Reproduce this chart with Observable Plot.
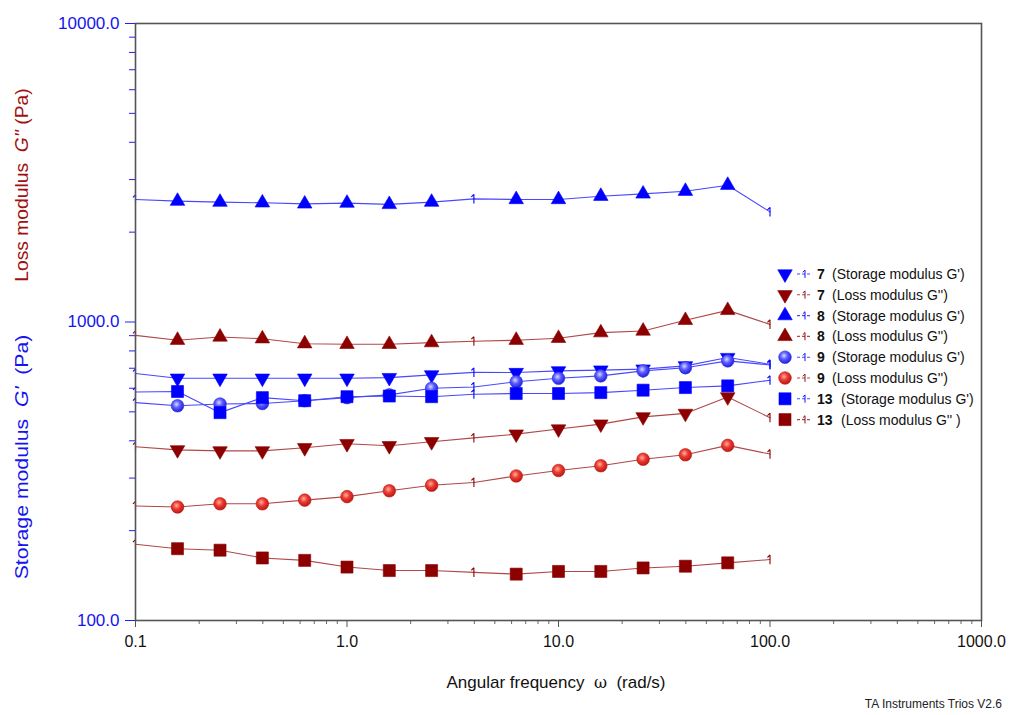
<!DOCTYPE html>
<html><head><meta charset="utf-8">
<script src="https://cdn.jsdelivr.net/npm/d3@7"></script>
<script src="https://cdn.jsdelivr.net/npm/@observablehq/plot@0.6"></script>
<style>body{margin:0;background:#fff;font-family:"Liberation Sans",Arial,sans-serif}</style>
</head><body>
<svg width="0" height="0" style="position:absolute">
<defs>
<radialGradient id="gBlue" cx="0.42" cy="0.38" r="0.65">
<stop offset="0" stop-color="#d8d8ff"/><stop offset="0.45" stop-color="#5a5aff"/><stop offset="1" stop-color="#1c1cd8"/>
</radialGradient>
<radialGradient id="gRed" cx="0.42" cy="0.38" r="0.65">
<stop offset="0" stop-color="#ffb0a0"/><stop offset="0.45" stop-color="#ec3a30"/><stop offset="1" stop-color="#b51612"/>
</radialGradient>
</defs></svg>
<div id="chart"></div>
<script>
// Angular frequency (rad/s)
const freq = [0.1, 0.158, 0.251, 0.398, 0.631, 1.0, 1.585, 2.512, 3.981, 6.31, 10.0, 15.85, 25.12, 39.81, 63.1, 100.0];
// Sample 7
const s7Storage = [672, 648, 648, 648, 648, 648, 651, 665, 678, 677, 686, 690, 695, 713, 760, 722];
const s7Loss    = [382, 373, 370, 370, 379, 391, 385, 397, 409, 421, 438, 455, 481, 494, 561, 478];
// Sample 8
const s8Storage = [2573, 2540, 2521, 2508, 2487, 2502, 2477, 2521, 2585, 2573, 2573, 2639, 2686, 2743, 2873, 2338];
const s8Loss    = [902, 869, 891, 879, 846, 842, 842, 853, 862, 869, 882, 921, 933, 1013, 1094, 982];
// Sample 9
const s9Storage = [537, 524, 531, 533, 545, 558, 570, 600, 606, 631, 648, 660, 686, 703, 741, 718];
const s9Loss    = [242, 240, 246, 246, 253, 260, 272, 284, 290, 305, 318, 330, 347, 359, 386, 361];
// Sample 13
const s13Storage = [583, 585, 497, 558, 545, 562, 565, 562, 573, 576, 576, 580, 591, 603, 611, 638];
const s13Loss    = [180, 174, 172, 162, 159, 151, 147, 147, 145, 143, 146, 146, 150, 152, 156, 160];
// Points drawn with the small line marker instead of the symbol
const lineMarkerIdx = [0, 8, 15];

const xTicks = [0.1, 1, 10, 100, 1000];
const xMinor = [0.2,0.3,0.4,0.5,0.6,0.7,0.8,0.9,2,3,4,5,6,7,8,9,20,30,40,50,60,70,80,90,200,300,400,500,600,700,800,900];
const yTicks = [100, 1000, 10000];
const yMinor = [200,300,400,500,600,700,800,900,2000,3000,4000,5000,6000,7000,8000,9000];

const BLUE = "#0000ff", DRED = "#8c0000";
const oneSymbol = {draw(ctx, size) {
  const r = Math.sqrt(size / Math.PI);
  ctx.moveTo(0, -r); ctx.lineTo(0, r);
  ctx.moveTo(-r * 0.55, -r * 0.45); ctx.lineTo(0, -r);
}};

const series = [
  {num: "7",  label: "(Storage modulus G')", vals: s7Storage,  kind: "tri",  rotate: 180, fill: BLUE,  stroke: BLUE, mark: BLUE, line: "#4848ff"},
  {num: "7",  label: "(Loss modulus G'')",   vals: s7Loss,     kind: "tri",  rotate: 180, fill: DRED,  stroke: DRED, mark: DRED, line: "#b04848"},
  {num: "8",  label: "(Storage modulus G')", vals: s8Storage,  kind: "tri",  rotate: 0,   fill: BLUE,  stroke: BLUE, mark: BLUE, line: "#4848ff"},
  {num: "8",  label: "(Loss modulus G'')",   vals: s8Loss,     kind: "tri",  rotate: 0,   fill: DRED,  stroke: DRED, mark: DRED, line: "#b04848"},
  {num: "9",  label: "(Storage modulus G')", vals: s9Storage,  kind: "circ", rotate: 0,   fill: "url(#gBlue)", stroke: "#2a2aee", mark: BLUE, line: "#4848ff"},
  {num: "9",  label: "(Loss modulus G'')",   vals: s9Loss,     kind: "circ", rotate: 0,   fill: "url(#gRed)",  stroke: "#c01a16", mark: DRED, line: "#b04848"},
  {num: "13", label: "(Storage modulus G')", vals: s13Storage, kind: "sq",   rotate: 0,   fill: BLUE,  stroke: BLUE, mark: BLUE, line: "#4848ff"},
  {num: "13", label: "(Loss modulus G'' )",  vals: s13Loss,    kind: "sq",   rotate: 0,   fill: DRED,  stroke: DRED, mark: DRED, line: "#b04848"}
];
const symName = {tri: "triangle", circ: "circle", sq: "square"};
const symR = {tri: 5.4, circ: 6.3, sq: 6.8};

const marks = [];
for (const s of series) {
  const rows = freq.map((f, i) => ({x: f, y: s.vals[i], i}));
  marks.push(Plot.line(rows, {x: "x", y: "y", stroke: s.line, strokeWidth: 1.1}));
}
for (const s of series) {
  const rows = freq.map((f, i) => ({x: f, y: s.vals[i], i}));
  marks.push(Plot.dot(rows.filter(d => !lineMarkerIdx.includes(d.i)), {
    x: "x", y: "y", symbol: symName[s.kind], r: symR[s.kind], rotate: s.rotate,
    fill: s.fill, stroke: s.stroke, strokeWidth: 0.6
  }));
  marks.push(Plot.dot(rows.filter(d => lineMarkerIdx.includes(d.i)), {
    x: "x", y: "y", symbol: oneSymbol, r: 4.6, fill: "none", stroke: s.mark, strokeWidth: 1.1
  }));
}

const chart = Plot.plot({
  width: 1012, height: 715,
  marginLeft: 135, marginRight: 31, marginTop: 23, marginBottom: 95,
  style: {fontFamily: '"Liberation Sans", Arial, sans-serif', fontSize: "16px", background: "#fff"},
  x: {type: "log", domain: [0.1, 1000]},
  y: {type: "log", domain: [100, 10000]},
  marks: [
    Plot.axisX(xMinor, {tickSize: 4, stroke: "#666", fill: "none", label: null}),
    Plot.axisX(xTicks, {tickSize: 7, tickPadding: 8, stroke: "#555", fill: "#111", tickFormat: d => d.toFixed(1), label: null}),
    Plot.axisY(yMinor, {tickSize: 6, stroke: "#2020ff", fill: "none", label: null}),
    Plot.axisY(yTicks, {tickSize: 10, tickPadding: 6, stroke: "#2020ff", fill: "#1414f0", fontSize: 17, tickFormat: d => d.toFixed(1), label: null}),
    ...marks,
    Plot.frame({stroke: "#555", strokeWidth: 1.6})
  ]
});
document.getElementById("chart").appendChild(chart);

const svg = d3.select(chart);
const font = '"Liberation Sans", Arial, sans-serif';
// X axis title
const xt = svg.append("text").attr("x", 556).attr("y", 682).attr("dy", "0.35em")
  .attr("text-anchor", "middle").attr("font-size", 17).attr("fill", "#111").attr("font-family", font)
  .attr("xml:space", "preserve");
xt.append("tspan").text("Angular frequency  ");
xt.append("tspan").attr("font-family", '"DejaVu Serif", serif').attr("font-size", 16).text("ω");
xt.append("tspan").text("  (rad/s)");
// Caption
svg.append("text").attr("x", 1002).attr("y", 704).attr("dy", "0.35em").attr("text-anchor", "end")
  .attr("font-size", 12).attr("fill", "#222").attr("font-family", font).text("TA Instruments Trios V2.6");
// Y axis titles
function yTitle(cy, color, a, g, b, stretch) {
  const t = svg.append("text").attr("transform", `translate(22,${cy}) rotate(-90) scale(${stretch},1)`).attr("dy", "0.35em")
    .attr("text-anchor", "middle").attr("font-size", 18).attr("fill", color).attr("font-family", font)
    .attr("xml:space", "preserve");
  t.append("tspan").text(a);
  t.append("tspan").attr("font-style", "italic").text(g);
  t.append("tspan").text(b);
}
yTitle(185, "#a01010", "Loss modulus  ", "G''", " (Pa)", 1.07);
yTitle(457, "#1414f0", "Storage modulus  ", "G'", "  (Pa)", 1.18);

// Legend
const lg = svg.append("g").attr("font-family", font).attr("font-size", 14).attr("text-anchor", "start");
series.forEach((s, j) => {
  const y = 274 + j * 20.8;
  if (s.kind === "circ") {
    lg.append("circle").attr("cx", 785).attr("cy", y).attr("r", symR.circ).attr("fill", s.fill).attr("stroke", s.stroke).attr("stroke-width", 0.6);
  } else {
    const path = d3.symbol(s.kind === "tri" ? d3.symbolTriangle : d3.symbolSquare, Math.PI * symR[s.kind] ** 2)();
    lg.append("path").attr("d", path).attr("transform", `translate(785,${y}) rotate(${s.rotate})`).attr("fill", s.fill).attr("stroke", s.stroke).attr("stroke-width", 0.6);
  }
  lg.append("line").attr("x1", 797).attr("x2", 812).attr("y1", y).attr("y2", y).attr("stroke", s.line).attr("stroke-width", 1.1).attr("stroke-dasharray", "3,2");
  lg.append("path").attr("d", d3.symbol(oneSymbol, Math.PI * 4.6 * 4.6)()).attr("transform", `translate(805,${y}) scale(0.85)`).attr("fill", "none").attr("stroke", s.mark).attr("stroke-width", 1.1);
  lg.append("text").attr("x", 817).attr("y", y).attr("dy", "0.35em").attr("font-weight", "bold").attr("fill", "#111").text(s.num);
  lg.append("text").attr("x", s.num === "13" ? 841 : 832).attr("y", y).attr("dy", "0.35em").attr("fill", "#111").text(s.label);
});
</script>
</body></html>
